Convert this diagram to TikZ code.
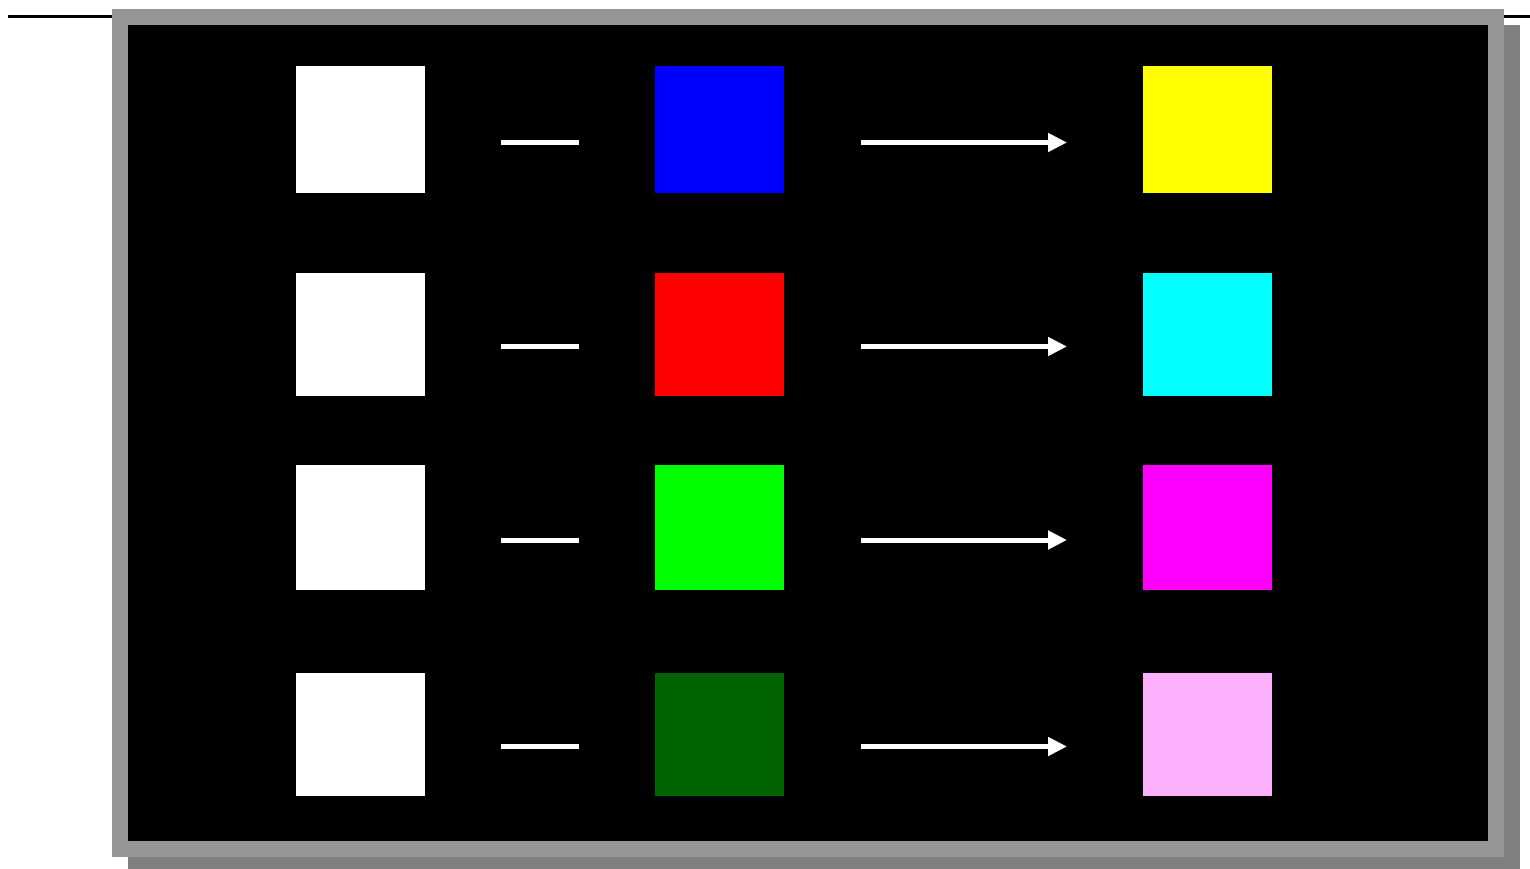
\documentclass[tikz,border=0pt]{standalone}
\usetikzlibrary{arrows.meta}
\definecolor{framegray}{RGB}{150,150,150}
\definecolor{shadowgray}{RGB}{128,128,128}
\definecolor{dkgreen}{RGB}{0,100,0}
\definecolor{pinkish}{RGB}{251,176,251}
\definecolor{pyellow}{RGB}{255,255,0}
\definecolor{pcyan}{RGB}{0,255,255}
\definecolor{pmagenta}{RGB}{255,0,255}
\definecolor{pblue}{RGB}{0,0,255}
\definecolor{pred}{RGB}{255,0,0}
\definecolor{pgreen}{RGB}{0,255,0}
\tikzset{
  sq/.style={draw=none, fill=#1, minimum width=129pt, inner sep=0pt, outer sep=0pt},
  conn/.style={draw=white, line width=5pt},
  arr/.style={conn, -{Triangle[length=19pt,width=18pt]}},
}
\begin{document}
\begin{tikzpicture}[x=1pt,y=-1pt]
\useasboundingbox (0,0) rectangle (1530,869);
% top line
\draw[line width=3pt] (8,16.5) -- (1530,16.5);
% shadow and frame
\fill[shadowgray] (128,25) rectangle (1520,869);
\fill[framegray] (112,9) rectangle (1504,857);
\fill[black] (128,25) rectangle (1488,841);
% row 1
\node[sq=white, minimum height=127pt] (w1) at (360.5,129.5) {};
\node[sq=pblue, minimum height=127pt] (b1) at (719.5,129.5) {};
\node[sq=pyellow, minimum height=127pt] (c1) at (1207.5,129.5) {};
% row 2
\node[sq=white, minimum height=123pt] (w2) at (360.5,334.5) {};
\node[sq=pred, minimum height=123pt] (b2) at (719.5,334.5) {};
\node[sq=pcyan, minimum height=123pt] (c2) at (1207.5,334.5) {};
% row 3
\node[sq=white, minimum height=125pt] (w3) at (360.5,527.5) {};
\node[sq=pgreen, minimum height=125pt] (b3) at (719.5,527.5) {};
\node[sq=pmagenta, minimum height=125pt] (c3) at (1207.5,527.5) {};
% row 4
\node[sq=white, minimum height=123pt] (w4) at (360.5,734.5) {};
\node[sq=dkgreen, minimum height=123pt] (b4) at (719.5,734.5) {};
\node[sq=pinkish, minimum height=123pt] (c4) at (1207.5,734.5) {};
% connectors
\foreach \i/\dy in {1/13,2/12,3/12.5,4/12}{
  \draw[conn] ([xshift=76pt,yshift=-\dy pt]w\i.east) -- ([xshift=-76pt,yshift=-\dy pt]b\i.west);
  \draw[arr] ([xshift=77pt,yshift=-\dy pt]b\i.east) -- ([xshift=-76pt,yshift=-\dy pt]c\i.west);
}
\end{tikzpicture}
\end{document}
